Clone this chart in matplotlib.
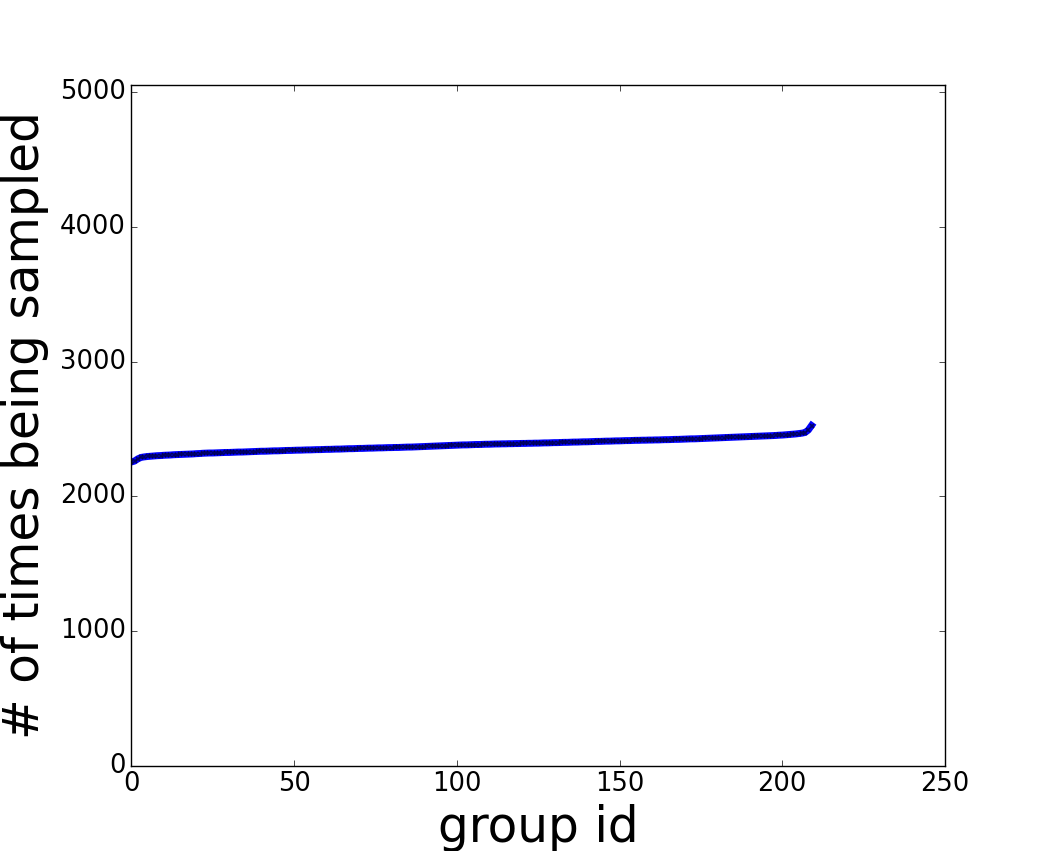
import numpy as np
import matplotlib
matplotlib.use("Agg")
import matplotlib.pyplot as plt

# sorted number of times each group was sampled
counts = [2255, 2262, 2278, 2289, 2293, 2296, 2298, 2300, 2302, 2303,
          2305, 2306, 2307, 2309, 2310, 2311, 2312, 2313, 2314, 2315,
          2317, 2318, 2320, 2321, 2322, 2322, 2323, 2324, 2325, 2326,
          2326, 2327, 2328, 2329, 2329, 2330, 2331, 2332, 2333, 2334,
          2335, 2335, 2336, 2337, 2338, 2338, 2339, 2340, 2341, 2341,
          2342, 2343, 2343, 2344, 2345, 2345, 2346, 2347, 2347, 2348,
          2349, 2349, 2350, 2351, 2351, 2352, 2353, 2354, 2354, 2355,
          2356, 2356, 2357, 2358, 2358, 2359, 2360, 2360, 2361, 2362,
          2362, 2363, 2363, 2364, 2365, 2366, 2366, 2367, 2368, 2369,
          2370, 2371, 2372, 2373, 2374, 2375, 2376, 2377, 2378, 2379,
          2380, 2381, 2382, 2382, 2383, 2384, 2385, 2385, 2386, 2387,
          2387, 2388, 2389, 2389, 2390, 2390, 2391, 2391, 2392, 2392,
          2393, 2393, 2394, 2394, 2395, 2395, 2396, 2397, 2397, 2398,
          2399, 2399, 2400, 2401, 2401, 2402, 2403, 2403, 2404, 2405,
          2405, 2406, 2407, 2408, 2408, 2409, 2410, 2410, 2411, 2412,
          2412, 2413, 2414, 2414, 2415, 2416, 2416, 2417, 2417, 2418,
          2418, 2419, 2419, 2420, 2421, 2421, 2422, 2423, 2423, 2424,
          2425, 2426, 2427, 2427, 2428, 2429, 2430, 2431, 2432, 2433,
          2434, 2435, 2436, 2437, 2438, 2439, 2440, 2441, 2442, 2443,
          2444, 2445, 2446, 2447, 2448, 2449, 2450, 2451, 2452, 2454,
          2455, 2457, 2459, 2461, 2463, 2466, 2469, 2474, 2492, 2526]
group_ids = np.arange(len(counts))

plt.style.use("classic")
fig = plt.figure(figsize=(10.5, 8.51), dpi=100, facecolor="white")
ax = fig.add_subplot(111)

ax.plot(group_ids, counts, color="b", linewidth=5)
ax.plot(group_ids, counts, linestyle="none", marker="x", markersize=3.5,
        markeredgewidth=1.2, markeredgecolor="#000040", alpha=0.8)
ax.set_xlim(0, 250)
ax.set_ylim(0, 2 * max(counts))
ax.set_yticks([0, 1000, 2000, 3000, 4000, 5000])
ax.tick_params(labelsize=18.5)
ax.set_xlabel("group id", fontsize=35, labelpad=5)
ax.set_ylabel("# of times being sampled", fontsize=35, labelpad=8)

fig.savefig("out.png", dpi=100, facecolor="white")
